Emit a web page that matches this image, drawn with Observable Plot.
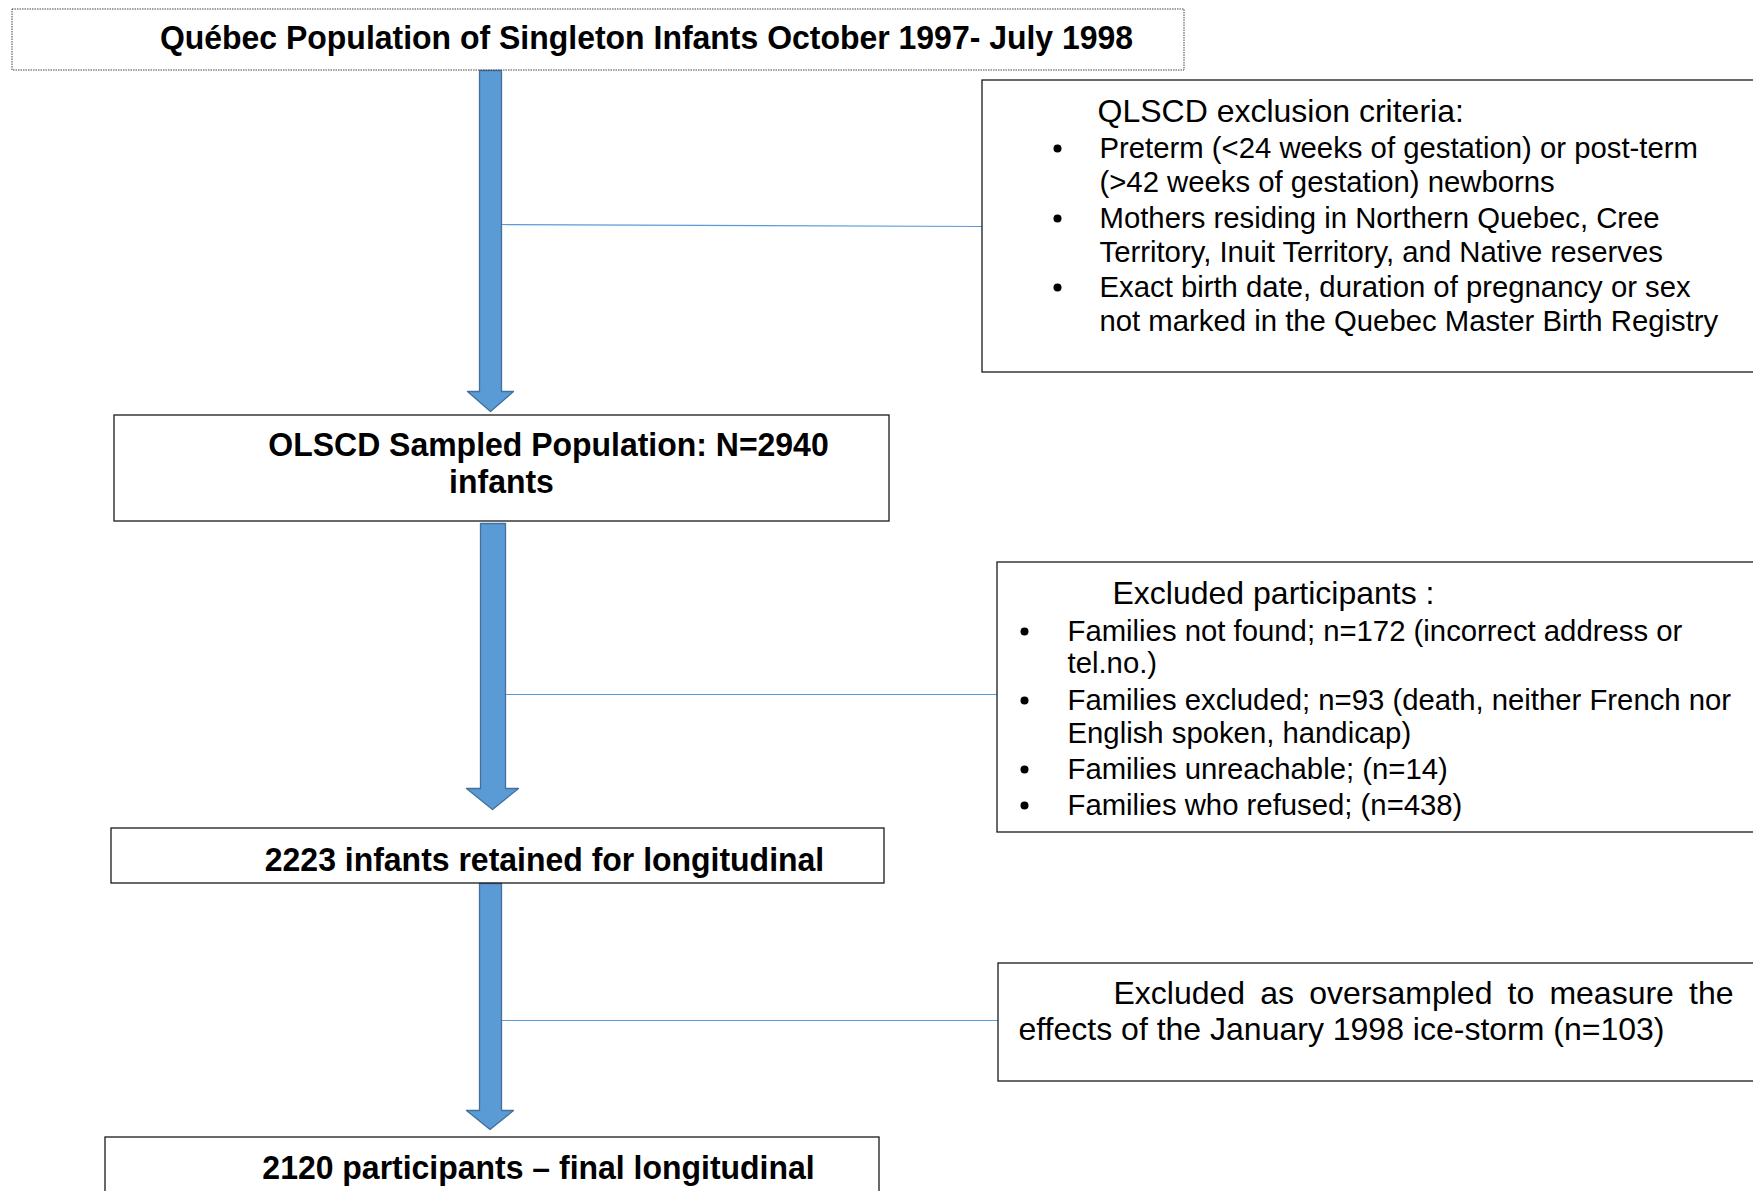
<!DOCTYPE html>
<html><head><meta charset="utf-8">
<script src="https://cdn.jsdelivr.net/npm/d3@7"></script>
<script src="https://cdn.jsdelivr.net/npm/@observablehq/plot@0.6"></script>
<style>body{margin:0;background:#fff;overflow:hidden;} svg{display:block;}</style>
</head><body><div id="chart"></div>
<script>
// ---- content ----
const stageLabels = [
  "Québec Population of Singleton Infants October 1997- July 1998",
  "OLSCD Sampled Population: N=2940",
  "infants",
  "2223 infants retained for longitudinal",
  "2120 participants – final longitudinal"
];
const criteriaHeading = "QLSCD exclusion criteria:";
const criteriaLines = [
  "Preterm (<24 weeks of gestation) or post-term",
  "(>42 weeks of gestation) newborns",
  "Mothers residing in Northern Quebec, Cree",
  "Territory, Inuit Territory, and Native reserves",
  "Exact birth date, duration of pregnancy or sex",
  "not marked in the Quebec Master Birth Registry"
];
const excludedHeading = "Excluded participants :";
const excludedLines = [
  "Families not found; n=172 (incorrect address or",
  "tel.no.)",
  "Families excluded; n=93 (death, neither French nor",
  "English spoken, handicap)",
  "Families unreachable; (n=14)",
  "Families who refused; (n=438)"
];
const oversampledLines = [
  "Excluded as oversampled to measure the",
  "effects of the January 1998 ice-storm (n=103)"
];

// ---- layout (flowchart geometry) ----
const boxes = [
  {x1: 12, x2: 1184, y1: 9, y2: 70, dotted: true},
  {x1: 114, x2: 889, y1: 415, y2: 521},
  {x1: 111, x2: 884, y1: 828, y2: 883},
  {x1: 105, x2: 879, y1: 1137, y2: 1210},
  {x1: 982, x2: 1765, y1: 80, y2: 372},
  {x1: 997, x2: 1765, y1: 562, y2: 832},
  {x1: 998, x2: 1765, y1: 963, y2: 1081}
];
const arrowGeom = [
  {xl: 479, xr: 501, yt: 70, yh: 391, hl: 467, hr: 513, tip: 411},
  {xl: 480, xr: 505, yt: 523, yh: 788, hl: 466, hr: 518, tip: 809},
  {xl: 479, xr: 501, yt: 883, yh: 1110, hl: 466, hr: 513, tip: 1129}
];
const connectors = [
  {x1: 501, y1: 224, x2: 982, y2: 226},
  {x1: 505, y1: 694, x2: 997, y2: 694},
  {x1: 501, y1: 1020, x2: 998, y2: 1020}
];
const stagePos = [
  {x: 646, y: 38}, {x: 548, y: 445}, {x: 501, y: 482}, {x: 544, y: 860}, {x: 538, y: 1168}
];
const criteriaY = [148, 182, 218, 252, 287, 321];
const criteriaBullets = [0, 2, 4];
const excludedY = [631, 663, 700, 733, 769, 805];
const excludedBullets = [0, 2, 4, 5];
const justifyRight = 1733; // right edge of justified first line in the ice-storm box
const descenderMask = [{x1: 560, x2: 884, y1: 884, y2: 897}];

const arrowPts = arrowGeom.flatMap((a, i) => {
  const xc = (a.hl + a.hr) / 2;
  return [[a.xl,a.yt],[a.xr,a.yt],[a.xr,a.yh],[a.hr,a.yh],[xc,a.tip],[a.hl,a.yh],[a.xl,a.yh],[a.xl,a.yt]]
    .map(([x, y]) => ({x, y, z: i}));
});

const stageText = stageLabels.map((t, i) => ({t, ...stagePos[i]}));
const headText = [{t: criteriaHeading, x: 1097, y: 111}, {t: excludedHeading, x: 1112, y: 593}];
const bodyText = criteriaLines.map((t, i) => ({t, x: 1099, y: criteriaY[i]}))
  .concat(excludedLines.map((t, i) => ({t, x: 1067, y: excludedY[i]})));
const overText = [
  {t: oversampledLines[0], x: 1113, y: 993},
  {t: oversampledLines[1], x: 1018, y: 1029}
];
const bullets = criteriaBullets.map(i => ({x: 1057, y: criteriaY[i]}))
  .concat(excludedBullets.map(i => ({x: 1024, y: excludedY[i]})));

const FONT = "'Liberation Sans', Arial, Helvetica, sans-serif";
const box = {x1: "x1", x2: "x2", y1: "y1", y2: "y2"};

const chart = Plot.plot({
  width: 1753, height: 1191,
  margin: 0,
  x: {domain: [0, 1753], range: [0, 1753], axis: null},
  y: {domain: [0, 1191], range: [0, 1191], axis: null},
  style: {background: "#fff"},
  marks: [
    Plot.link(connectors, {x1: "x1", y1: "y1", x2: "x2", y2: "y2", stroke: "#5B9BD5", strokeWidth: 1.2}),
    Plot.rect(boxes, {...box, fill: "#fff"}),
    Plot.line(arrowPts, {x: "x", y: "y", z: "z", fill: "#5B9BD5", stroke: "#41719C", strokeWidth: 1.3, curve: "linear"}),
    Plot.text(stageText, {x: "x", y: "y", text: "t", fontSize: 34, fontWeight: "bold", fontFamily: FONT, textAnchor: "middle", fill: "#000"}),
    Plot.text(headText, {x: "x", y: "y", text: "t", fontSize: 32, fontFamily: FONT, textAnchor: "start", fill: "#000"}),
    Plot.text(bodyText, {x: "x", y: "y", text: "t", fontSize: 29.3, fontFamily: FONT, textAnchor: "start", fill: "#000"}),
    Plot.text(overText, {x: "x", y: "y", text: "t", fontSize: 32, fontFamily: FONT, textAnchor: "start", fill: "#000"}),
    Plot.dot(bullets, {x: "x", y: "y", r: 4, fill: "#000", stroke: null}),
    Plot.rect(descenderMask, {...box, fill: "#fff"}),
    Plot.rect(boxes.filter(b => !b.dotted), {...box, fill: "none", stroke: "#1a1a1a", strokeWidth: 1.3}),
    Plot.rect(boxes.filter(b => b.dotted), {...box, fill: "none", stroke: "#444", strokeWidth: 1, strokeDasharray: "1.5,1"})
  ]
});
document.getElementById("chart").appendChild(chart);

// Condense the bold labels slightly (Arial-like narrow rendering), justify first ice-storm line
d3.select(chart).selectAll("text").each(function() {
  const el = this;
  const txt = el.textContent;
  if (stageLabels.includes(txt)) {
    const w = el.getComputedTextLength();
    el.setAttribute("textLength", (w * 0.94).toFixed(1));
    el.setAttribute("lengthAdjust", "spacingAndGlyphs");
  } else if (txt === oversampledLines[0]) {
    const w = el.getComputedTextLength();
    const gaps = txt.split(" ").length - 1;
    const extra = (justifyRight - overText[0].x - w) / gaps;
    if (extra > 0 && extra < 40) el.setAttribute("word-spacing", extra.toFixed(2));
  }
});
</script>
</body></html>
